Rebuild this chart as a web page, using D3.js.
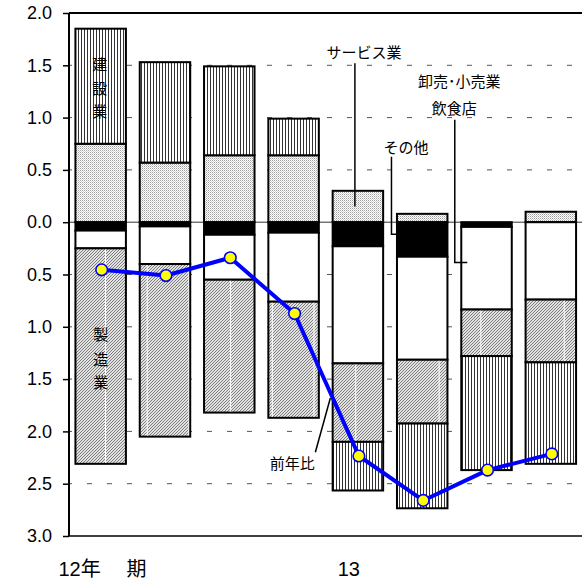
<!DOCTYPE html>
<html><head><meta charset="utf-8">
<script src="https://cdn.jsdelivr.net/npm/d3@7"></script>
<style>body{margin:0;background:#fff}svg{display:block}</style>
</head><body><svg id="c" width="582" height="579"></svg>
<script>
// ---- data ----
const categories = ["12Q1","12Q2","12Q3","12Q4","13Q1","13Q2","13Q3","13Q4"];
const service       = [0.75, 0.57, 0.64, 0.64, 0.30, 0.08, 0.00, 0.10];
const construction  = [1.10, 0.96, 0.85, 0.35, -0.465, -0.81, -1.09, -0.97];
const others        = [-0.08, -0.04, -0.12, -0.10, -0.23, -0.33, -0.045, 0.00];
const wholesale     = [-0.17, -0.36, -0.43, -0.66, -1.12, -0.985, -0.79, -0.74];
const manufacturing = [-2.06, -1.65, -1.27, -1.11, -0.75, -0.61, -0.445, -0.60];
const yoy           = [-0.455, -0.51, -0.34, -0.873, -2.235, -2.66, -2.37, -2.215];
const yTicks = [2, 1.5, 1, 0.5, 0, -0.5, -1, -1.5, -2, -2.5, -3];
const seriesKeys = ["service","others","wholesale","manufacturing","construction"];
const xLabels = [{text:"12年", cat:"12Q1", dx:-17}, {text:"期", cat:"12Q1", dx:51}, {text:"13", cat:"13Q1", dx:5}];

const svg = d3.select("#c");
const m = {left:69, top:13, right:582.5, bottom:536};
const x = d3.scaleBand().domain(categories).range([m.left, m.right]).paddingInner(0.215).paddingOuter(0.1);
const y = d3.scaleLinear().domain([-3, 2]).range([m.bottom, m.top]);

const defs = svg.append("defs");
// vertical lines (construction)
const pv = defs.append("pattern").attr("id","pv").attr("patternUnits","userSpaceOnUse").attr("width",3).attr("height",10);
pv.append("rect").attr("width",3).attr("height",10).attr("fill","#fff");
pv.append("rect").attr("width",1).attr("height",10).attr("fill","#333");
// stipple (service)
const ps = defs.append("pattern").attr("id","ps").attr("patternUnits","userSpaceOnUse").attr("width",2).attr("height",2);
ps.append("rect").attr("width",2).attr("height",2).attr("fill","#fff");
ps.append("rect").attr("width",1).attr("height",1).attr("fill","#a0a0a0");
ps.append("rect").attr("x",1).attr("y",1).attr("width",1).attr("height",1).attr("fill","#d0d0d0");
// diagonal hatch (manufacturing)
const ph = defs.append("pattern").attr("id","ph").attr("patternUnits","userSpaceOnUse").attr("width",3).attr("height",3);
ph.append("rect").attr("width",3).attr("height",3).attr("fill","#e2e2e2");
ph.append("path").attr("d","M-1,1 l2,-2 M0,3 l3,-3 M2,4 l2,-2").attr("stroke","#6a6a6a").attr("stroke-width",0.85);
// white seams in hatch
const pw = defs.append("pattern").attr("id","pw").attr("patternUnits","userSpaceOnUse").attr("x",21.6).attr("width",41.7).attr("height",10);
pw.append("rect").attr("width",1).attr("height",10).attr("fill","#fff");

const fills = {service:"url(#ps)", construction:"url(#pv)", others:"#000", wholesale:"#fff", manufacturing:"url(#ph)"};

// gridlines
svg.append("g").selectAll("line").data(yTicks.filter(d => d !== 2 && d !== -3 && d !== 0)).join("line")
  .attr("x1", m.left).attr("x2", m.right).attr("y1", d => y(d)).attr("y2", d => y(d))
  .attr("stroke","#555").attr("stroke-width",1).attr("stroke-dasharray","5,15").attr("stroke-dashoffset",2);
// zero line
svg.append("line").attr("x1", m.left).attr("x2", m.right).attr("y1", y(0)).attr("y2", y(0))
  .attr("stroke","#333").attr("stroke-width",1);

// stacked bars
const rows = categories.map((c,i) => ({cat:c, service:service[i], construction:construction[i], others:others[i], wholesale:wholesale[i], manufacturing:manufacturing[i]}));
const stack = d3.stack().keys(seriesKeys).offset(d3.stackOffsetDiverging)(rows);
const bars = svg.append("g");
stack.forEach(s => {
  const segs = s.filter(d => Math.abs(d[1]-d[0]) > 1e-9);
  bars.selectAll(null).data(segs).join("rect")
    .attr("x", d => x(d.data.cat)).attr("width", x.bandwidth())
    .attr("y", d => y(Math.max(d[0],d[1]))).attr("height", d => Math.abs(y(d[0]) - y(d[1])))
    .attr("fill", fills[s.key]).attr("stroke","#000").attr("stroke-width",2);
  if (s.key === "manufacturing") {
    bars.selectAll(null).data(segs).join("rect")
      .attr("x", d => x(d.data.cat)+1).attr("width", x.bandwidth()-2)
      .attr("y", d => y(Math.max(d[0],d[1]))+1).attr("height", d => Math.abs(y(d[0]) - y(d[1]))-2)
      .attr("fill","url(#pw)");
  }
});

// frame
svg.append("line").attr("x1",m.left).attr("x2",m.right).attr("y1",m.top).attr("y2",m.top).attr("stroke","#000").attr("stroke-width",2);
svg.append("line").attr("x1",m.left).attr("x2",m.right).attr("y1",m.bottom).attr("y2",m.bottom).attr("stroke","#000").attr("stroke-width",1.5);

// y axis
const yAxis = d3.axisLeft(y).tickValues(yTicks).tickSize(6).tickPadding(11).tickFormat(d => d3.format(".1f")(Math.abs(d)));
const ga = svg.append("g").attr("transform",`translate(${m.left},0)`).call(yAxis);
ga.selectAll(".domain").attr("stroke","#000").attr("stroke-width",2).attr("d",`M0,${m.top}V${m.bottom}`);
ga.selectAll(".tick line").attr("stroke","#000").attr("stroke-width",1.5);
ga.selectAll(".tick text").attr("font-family","'Liberation Sans', Arial, sans-serif").attr("font-size",18).attr("fill","#000");

// x labels
svg.append("g").selectAll("text").data(xLabels).join("text")
  .attr("x", d => x(d.cat) + d.dx).attr("y", 576)
  .attr("font-family","'Liberation Sans','Noto Sans CJK JP',sans-serif").attr("font-size",20).attr("fill","#000")
  .text(d => d.text);

// YoY line
const cx = c => x(c) + x.bandwidth()/2 + 1;
const line = d3.line().x((d,i) => cx(categories[i])).y(d => y(d));
svg.append("path").datum(yoy).attr("d", line).attr("fill","none").attr("stroke","#0000ff").attr("stroke-width",4).attr("stroke-linejoin","round");
svg.append("g").selectAll("circle").data(yoy).join("circle")
  .attr("cx",(d,i) => cx(categories[i])).attr("cy", d => y(d)).attr("r",5.8)
  .attr("fill","#ffff00").attr("stroke","#0000ff").attr("stroke-width",1.6);

// annotations
const jp = "'Noto Sans CJK JP', sans-serif";
const ann = svg.append("g").attr("font-family", jp).attr("font-size",15).attr("fill","#000");
const bx = c => x(c), bw = x.bandwidth();
function label(t, xx, yy, anchor="middle"){ ann.append("text").attr("x",xx).attr("y",yy).attr("text-anchor",anchor).attr("dominant-baseline","central").text(t); }
// inside bars
["建","設","業"].forEach((c,i) => label(c, bx("12Q1")+bw/2-1, y([1.52,1.29,1.07][i])));
["製","造","業"].forEach((c,i) => label(c, bx("12Q1")+bw/2, y([-1.065,-1.30,-1.52][i])));
// leader-line labels
const lead = svg.append("g").attr("fill","none").attr("stroke","#000").attr("stroke-width",1.5);
label("サービス業", bx("13Q1")+bw/2+6, y(1.635));
lead.append("path").attr("d",`M${bx("13Q1")+bw/2-3},${y(1.52)}V${y(0.15)}`);
label("その他", bx("13Q2")+9, y(0.72));
lead.append("path").attr("d",`M${bx("13Q2")-5.5},${y(0.625)}V${y(-0.116)}H${bx("13Q2")}`);
label("卸売･小売業", bx("13Q3")-2, y(1.357));
label("飲食店", bx("13Q3")-7, y(1.1));
lead.append("path").attr("d",`M${bx("13Q3")-6.5},${y(0.98)}V${y(-0.385)}H${bx("13Q3")+6}`);
label("前年比", bx("12Q4")+24, y(-2.3));
lead.append("path").attr("d",`M${bx("12Q4")+47},${y(-2.2)}L${bx("12Q4")+62},${y(-1.68)}`);
</script></body></html>
